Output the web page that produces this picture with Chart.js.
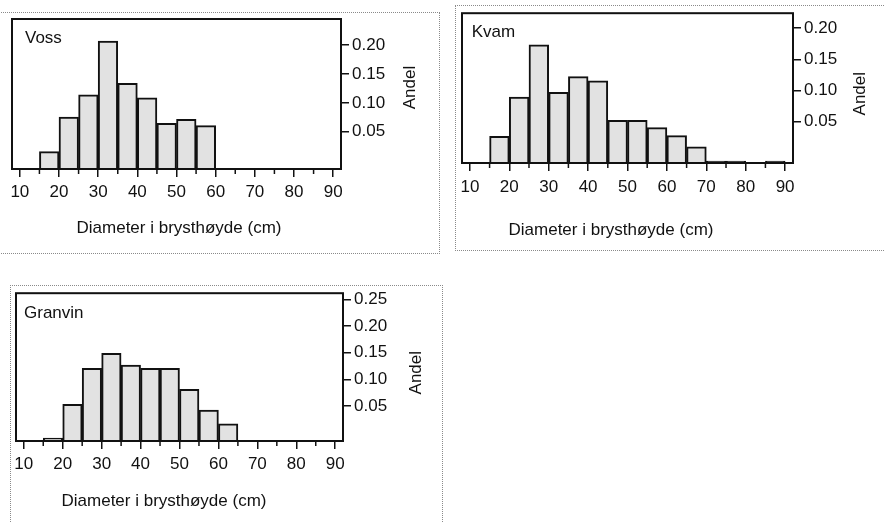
<!DOCTYPE html>
<html>
<head>
<meta charset="utf-8">
<script src="https://cdn.jsdelivr.net/npm/chart.js@4.4.1/dist/chart.umd.min.js"></script>
<style>
  body { margin: 0; background: #fff; width: 885px; height: 523px; position: relative; overflow: hidden; }
  .box { position: absolute; border: 1px dotted #8a8a8a; }
  canvas { position: absolute; }
</style>
</head>
<body>
<div class="box" style="left:-2px;top:12px;width:441px;height:240px;border-left:none"></div>
<div class="box" style="left:455px;top:5px;width:440px;height:244px;border-right:none"></div>
<div class="box" style="left:10px;top:285px;width:431px;height:250px;border-bottom:none"></div>

<canvas id="voss" width="445" height="260" style="left:0;top:0"></canvas>
<canvas id="kvam" width="440" height="260" style="left:445px;top:0"></canvas>
<canvas id="granvin" width="445" height="243" style="left:0;top:280px"></canvas>

<script>
// Diameter classes (cm) and share of trees per class
const X_TITLE = 'Diameter i brysthøyde (cm)';
const Y_TITLE = 'Andel';
const X_MIN = 8, X_MAX = 92;
const X_MINOR = [15, 25, 35, 45, 55, 65, 75, 85];

const VOSS_MID = [17.5, 22.5, 27.5, 32.5, 37.5, 42.5, 47.5, 52.5, 57.5];
const VOSS_SHARE = [0.030, 0.090, 0.1285, 0.2215, 0.148, 0.123, 0.079, 0.086, 0.075];

const KVAM_MID = [17.5, 22.5, 27.5, 32.5, 37.5, 42.5, 47.5, 52.5, 57.5, 62.5, 67.5, 72.5, 77.5, 82.5, 87.5];
const KVAM_SHARE = [0.043, 0.106, 0.190, 0.1135, 0.139, 0.132, 0.0685, 0.0685, 0.057, 0.044, 0.026, 0.003, 0.003, 0, 0.003];

const GRANVIN_MID = [17.5, 22.5, 27.5, 32.5, 37.5, 42.5, 47.5, 52.5, 57.5, 62.5];
const GRANVIN_SHARE = [0.0056, 0.0688, 0.136, 0.164, 0.142, 0.136, 0.136, 0.0967, 0.058, 0.032];

const FONT = '"Liberation Sans", Arial, sans-serif';
const FONT_SIZE = 17;
const INK = '#111';

// frame, minor ticks and the free-standing labels
const panelDecor = {
  id: 'panelDecor',
  afterDraw(chart, args, o) {
    const { ctx, chartArea: a, scales } = chart;
    ctx.save();
    ctx.strokeStyle = INK;
    ctx.lineWidth = 1.5;
    X_MINOR.forEach(v => {
      const px = scales.x.getPixelForValue(v);
      ctx.beginPath();
      ctx.moveTo(px, a.bottom);
      ctx.lineTo(px, a.bottom + 5);
      ctx.stroke();
    });
    ctx.lineWidth = 2;
    ctx.strokeRect(a.left, a.top, a.right - a.left, a.bottom - a.top);

    ctx.fillStyle = INK;
    ctx.font = FONT_SIZE + 'px ' + FONT;
    ctx.textBaseline = 'middle';
    ctx.textAlign = 'left';
    ctx.fillText(o.name, a.left + o.nameDx, a.top + o.nameDy);
    ctx.textAlign = 'center';
    ctx.fillText(X_TITLE, a.left + o.titleDx, a.bottom + o.titleDy);
    ctx.translate(a.right + o.andelDx, a.top + o.andelDy);
    ctx.rotate(-Math.PI / 2);
    ctx.fillText(Y_TITLE, 0, 0);
    ctx.restore();
  }
};

function makePanel(id, mids, shares, p) {
  const ctx = document.getElementById(id).getContext('2d');
  return new Chart(ctx, {
    type: 'bar',
    data: {
      datasets: [{
        data: mids.map((m, i) => ({ x: m, y: shares[i] })),
        backgroundColor: '#e2e2e2',
        borderColor: INK,
        borderWidth: 2,
        borderSkipped: 'start',
        barPercentage: 1,
        categoryPercentage: 1,
        xAxisID: 'x',
        yAxisID: 'y'
      }]
    },
    options: {
      responsive: false,
      animation: false,
      layout: { padding: { left: p.left, top: p.top, right: 0, bottom: 0 } },
      plugins: {
        legend: { display: false },
        tooltip: { enabled: false },
        panelDecor: p.decor
      },
      scales: {
        x: {
          type: 'linear',
          min: X_MIN,
          max: X_MAX,
          offset: false,
          grid: { offset: false, drawOnChartArea: false, tickLength: 8, color: INK, lineWidth: 1.5 },
          border: { display: false },
          ticks: {
            stepSize: 10, includeBounds: false, autoSkip: false, maxRotation: 0,
            color: INK, padding: p.xPad, font: { size: FONT_SIZE, family: FONT }
          },
          afterFit: s => { s.height = p.xAxisH; }
        },
        y: { type: 'linear', display: false, min: 0, max: p.trueMax },
        yl: {
          type: 'linear',
          position: 'right',
          min: -p.shift,
          max: p.trueMax - p.shift,
          grid: { drawOnChartArea: false, tickLength: 8, color: INK, lineWidth: 1.5 },
          border: { display: false },
          ticks: {
            stepSize: 0.05, includeBounds: false, padding: 3,
            color: INK, font: { size: FONT_SIZE, family: FONT },
            callback: v => v.toFixed(2)
          },
          afterBuildTicks: s => { s.ticks = s.ticks.filter(t => t.value > 0.001); },
          afterFit: s => { s.width = p.yAxisW; }
        }
      }
    },
    plugins: [panelDecor]
  });
}

makePanel('voss', VOSS_MID, VOSS_SHARE, {
  left: 12, top: 19, xAxisH: 91, yAxisW: 104, trueMax: 0.2595, shift: 0.0145, xPad: 5,
  decor: { name: 'Voss', nameDx: 13, nameDy: 19, titleDx: 167, titleDy: 59, andelDx: 69, andelDy: 68.5 }
});
makePanel('kvam', KVAM_MID, KVAM_SHARE, {
  left: 17, top: 13, xAxisH: 97, yAxisW: 92, trueMax: 0.241, shift: 0.0169, xPad: 6,
  decor: { name: 'Kvam', nameDx: 9.7, nameDy: 19.5, titleDx: 149, titleDy: 67, andelDx: 67, andelDy: 80.5 }
});
makePanel('granvin', GRANVIN_MID, GRANVIN_SHARE, {
  left: 16, top: 12, xAxisH: 82, yAxisW: 102, trueMax: 0.2764, shift: 0.015, xPad: 5,
  decor: { name: 'Granvin', nameDx: 8, nameDy: 20.5, titleDx: 148, titleDy: 60.7, andelDx: 73.5, andelDy: 79.5 }
});
</script>
</body>
</html>
